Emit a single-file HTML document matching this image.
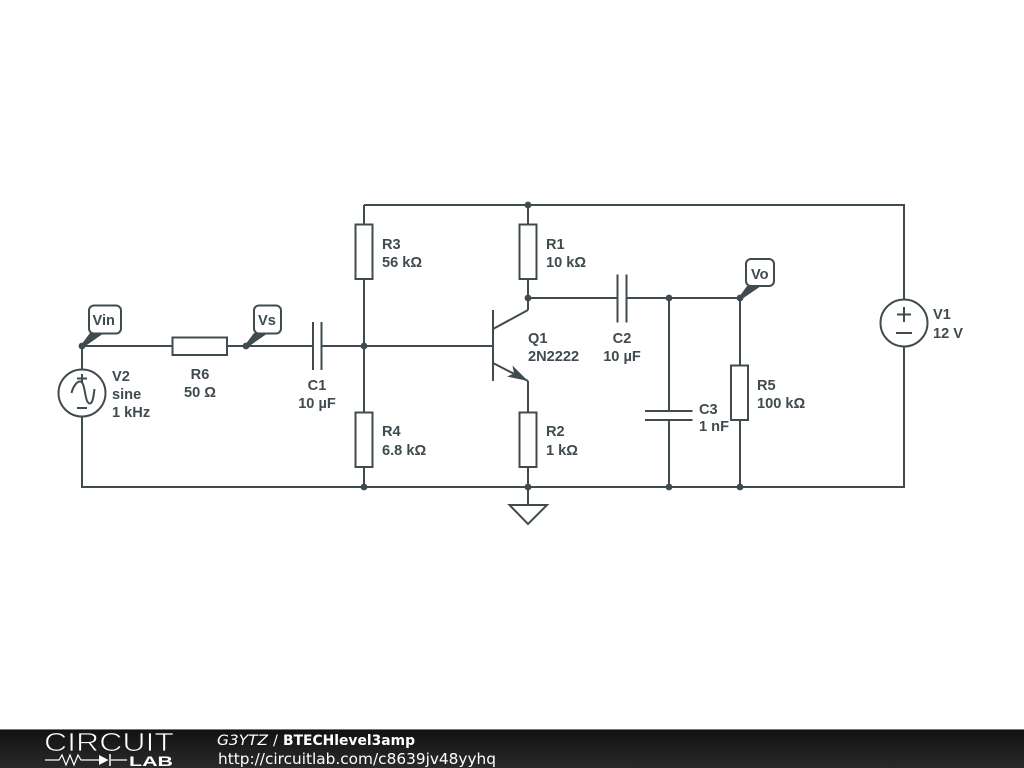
<!DOCTYPE html>
<html>
<head>
<meta charset="utf-8">
<style>
html,body{margin:0;padding:0;background:#fff;width:1024px;height:768px;overflow:hidden}
svg{display:block}
.w{fill:none;stroke:#404b4f;stroke-width:2}
.b{fill:#fff;stroke:#404b4f;stroke-width:2}
.t{font-family:"Liberation Sans",sans-serif;font-size:14.600px;font-weight:bold;fill:#404b4f}
.f{font-family:"DejaVu Sans",sans-serif;fill:#fff}
</style>
</head>
<body>
<svg width="1024" height="768" viewBox="0 0 1024 768" xmlns="http://www.w3.org/2000/svg">
<defs>
<linearGradient id="g" x1="0" y1="0" x2="0" y2="1">
<stop offset="0" stop-color="#111"/><stop offset="1" stop-color="#2a2a2a"/>
</linearGradient>
</defs>
<rect width="1024" height="768" fill="#fff"/>

<!-- wires -->
<path class="w" d="M364 205H904V299M904 347V487H82V416M82 369V346H172M227 346H313M321 346H493M364 205V224M364 279V412M364 467V487M528 205V224M528 279V310M528 381V412M528 467V505M528 298H617.500M626.500 298H740V365M740 420V487M669 298V411M669 420V487"/>

<!-- resistors -->
<rect class="b" x="172.500" y="337.500" width="54.500" height="17.500"/>
<rect class="b" x="355.500" y="224.500" width="17" height="54.500"/>
<rect class="b" x="355.500" y="412.500" width="17" height="54.500"/>
<rect class="b" x="519.500" y="224.500" width="17" height="54.500"/>
<rect class="b" x="519.500" y="412.500" width="17" height="54.500"/>
<rect class="b" x="731" y="365.500" width="17" height="54.500"/>

<!-- capacitors -->
<path class="w" d="M313 322V370M321.500 322V370M617.500 274.500V322.500M626.500 274.500V322.500M645 411H692.500M645 420H692.500"/>

<!-- transistor -->
<path class="w" d="M493 310V381M493 329L528 310M493 363L528 381"/>
<path d="M528 381L512.500 365.500L514 373.500L507 376.500Z" fill="#404b4f"/>

<!-- ground -->
<path class="w" d="M509.500 505H547L528 524Z"/>

<!-- sources -->
<circle class="b" cx="82" cy="393" r="23.500"/>
<path class="w" d="M82 374V383M77 378.500H87M77 408H87M71.500 393C73 387 76.500 381.500 80 381.500C86 381.500 84 403.500 90 403.500C92.500 403.500 93.500 397 94.500 389"/>
<circle class="b" cx="904" cy="323" r="23.500"/>
<path class="w" d="M904 307V322M897 314.500H911M896 333H912"/>

<!-- nodes -->
<g fill="#404b4f">
<circle cx="82" cy="346" r="3.400"/><circle cx="246" cy="346" r="3.400"/>
<circle cx="364" cy="346" r="3.400"/><circle cx="364" cy="487" r="3.400"/>
<circle cx="528" cy="205" r="3.400"/><circle cx="528" cy="298" r="3.400"/><circle cx="528" cy="487" r="3.400"/>
<circle cx="669" cy="298" r="3.400"/><circle cx="669" cy="487" r="3.400"/>
<circle cx="740" cy="298" r="3.400"/><circle cx="740" cy="487" r="3.400"/>
<path d="M81 345L90 333H104L84 347Z"/>
<path d="M245 345L254 333H268L248 347Z"/>
<path d="M739 297L747 286H761L742 299Z"/>
</g>

<!-- flags -->
<rect class="b" x="89" y="305.500" width="32" height="28" rx="5"/>
<rect class="b" x="254" y="305.500" width="27" height="28" rx="5"/>
<rect class="b" x="746" y="259" width="28" height="27" rx="5"/>
<text class="t" x="92.500" y="325">Vin</text>
<text class="t" x="258" y="325">Vs</text>
<text class="t" x="751" y="279">Vo</text>

<!-- labels -->
<text class="t" x="112" y="381">V2</text>
<text class="t" x="112" y="399">sine</text>
<text class="t" x="112" y="417">1 kHz</text>
<text class="t" x="200" y="379" text-anchor="middle">R6</text>
<text class="t" x="200" y="397" text-anchor="middle">50 Ω</text>
<text class="t" x="317" y="390" text-anchor="middle">C1</text>
<text class="t" x="317" y="408" text-anchor="middle">10 µF</text>
<text class="t" x="382" y="249">R3</text>
<text class="t" x="382" y="267">56 kΩ</text>
<text class="t" x="382" y="436">R4</text>
<text class="t" x="382" y="455">6.8 kΩ</text>
<text class="t" x="546" y="249">R1</text>
<text class="t" x="546" y="267">10 kΩ</text>
<text class="t" x="528" y="343">Q1</text>
<text class="t" x="528" y="361">2N2222</text>
<text class="t" x="546" y="436">R2</text>
<text class="t" x="546" y="455">1 kΩ</text>
<text class="t" x="622" y="343" text-anchor="middle">C2</text>
<text class="t" x="622" y="361" text-anchor="middle">10 µF</text>
<text class="t" x="699" y="414">C3</text>
<text class="t" x="699" y="431">1 nF</text>
<text class="t" x="757" y="390">R5</text>
<text class="t" x="757" y="408">100 kΩ</text>
<text class="t" x="933" y="319">V1</text>
<text class="t" x="933" y="338">12 V</text>

<!-- footer -->
<rect x="0" y="729" width="1024" height="39" fill="url(#g)"/>
<rect x="0" y="729" width="1024" height="1" fill="#777"/>
<text x="44" y="751" font-family="'Liberation Sans',sans-serif" font-size="26" fill="#fff" stroke="#1b1b1b" stroke-width="0.800" textLength="130" lengthAdjust="spacingAndGlyphs">CIRCUIT</text>
<path d="M45 760H59L62 755L66 765L70 755L74 765L78 755L81 760H99M111 760H127" fill="none" stroke="#fff" stroke-width="1.200"/>
<path d="M99 755V765L108.500 760Z" fill="#fff"/>
<path d="M110 754V766" stroke="#fff" stroke-width="1.500"/>
<text x="129" y="766" font-family="'Liberation Sans',sans-serif" font-size="14" font-weight="bold" fill="#fff" textLength="44" lengthAdjust="spacingAndGlyphs">LAB</text>
<text class="f" x="217" y="745" font-size="14.500" font-style="italic" fill="#ddd" textLength="51" lengthAdjust="spacingAndGlyphs">G3YTZ</text>
<text class="f" x="273" y="745" font-size="14.500" fill="#ddd">/</text>
<text class="f" x="283" y="745" font-size="14" font-weight="bold" textLength="132" lengthAdjust="spacingAndGlyphs">BTECHlevel3amp</text>
<text class="f" x="218" y="764" font-size="15.500" textLength="278" lengthAdjust="spacingAndGlyphs">http://circuitlab.com/c8639jv48yyhq</text>
</svg>
</body>
</html>
